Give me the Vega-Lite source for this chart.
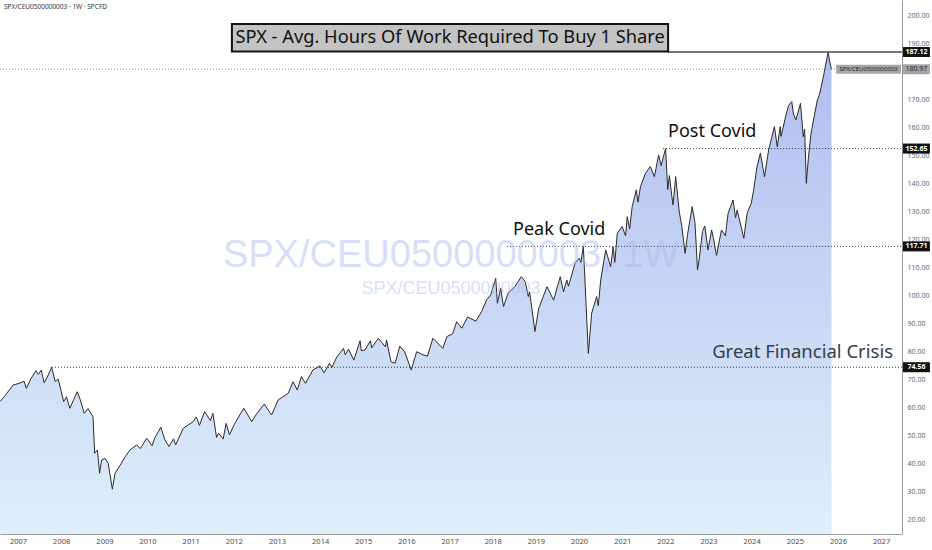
{
  "$schema": "https://vega.github.io/schema/vega-lite/v6.json",
  "width": 902,
  "height": 534,
  "autosize": {"type": "none"},
  "padding": {"left": 0, "top": 0, "right": 30, "bottom": 16},
  "background": "white",
  "datasets": {
    "spx": [
      {"date": "2006-08-01", "hours": 62.3}, {"date": "2006-09-15", "hours": 64.5}, {"date": "2006-10-20", "hours": 66.5},
      {"date": "2006-11-20", "hours": 68.2}, {"date": "2007-01-10", "hours": 68.8}, {"date": "2007-02-20", "hours": 69.6},
      {"date": "2007-03-12", "hours": 67.0}, {"date": "2007-04-20", "hours": 70.5}, {"date": "2007-06-01", "hours": 73.3},
      {"date": "2007-06-20", "hours": 72.0}, {"date": "2007-07-16", "hours": 73.5}, {"date": "2007-08-10", "hours": 69.0},
      {"date": "2007-09-10", "hours": 71.5}, {"date": "2007-10-12", "hours": 74.56}, {"date": "2007-11-12", "hours": 69.4},
      {"date": "2007-12-07", "hours": 70.3}, {"date": "2008-01-22", "hours": 62.3}, {"date": "2008-02-15", "hours": 64.0},
      {"date": "2008-03-14", "hours": 59.9}, {"date": "2008-05-16", "hours": 65.8}, {"date": "2008-06-10", "hours": 63.0},
      {"date": "2008-07-14", "hours": 58.1}, {"date": "2008-08-15", "hours": 59.8}, {"date": "2008-09-26", "hours": 56.9},
      {"date": "2008-10-10", "hours": 43.8}, {"date": "2008-11-03", "hours": 45.0}, {"date": "2008-11-21", "hours": 36.7},
      {"date": "2008-12-08", "hours": 41.4}, {"date": "2009-01-06", "hours": 42.0}, {"date": "2009-02-02", "hours": 40.2},
      {"date": "2009-03-09", "hours": 31.0}, {"date": "2009-04-01", "hours": 36.7}, {"date": "2009-05-15", "hours": 39.6},
      {"date": "2009-06-26", "hours": 42.6}, {"date": "2009-08-05", "hours": 45.0}, {"date": "2009-10-01", "hours": 46.8},
      {"date": "2009-11-01", "hours": 45.5}, {"date": "2009-12-25", "hours": 49.2}, {"date": "2010-02-08", "hours": 46.5},
      {"date": "2010-03-05", "hours": 49.5}, {"date": "2010-04-23", "hours": 53.1}, {"date": "2010-05-28", "hours": 48.6},
      {"date": "2010-07-02", "hours": 46.2}, {"date": "2010-08-09", "hours": 49.0}, {"date": "2010-08-27", "hours": 46.8},
      {"date": "2010-10-29", "hours": 52.7}, {"date": "2011-01-21", "hours": 55.1}, {"date": "2011-02-18", "hours": 56.8},
      {"date": "2011-03-16", "hours": 53.8}, {"date": "2011-04-29", "hours": 58.7}, {"date": "2011-06-17", "hours": 55.5},
      {"date": "2011-07-08", "hours": 58.1}, {"date": "2011-08-08", "hours": 49.5}, {"date": "2011-08-26", "hours": 51.0},
      {"date": "2011-10-03", "hours": 48.9}, {"date": "2011-10-28", "hours": 54.5}, {"date": "2011-11-25", "hours": 50.4},
      {"date": "2012-01-06", "hours": 54.2}, {"date": "2012-02-20", "hours": 57.5}, {"date": "2012-03-26", "hours": 59.9},
      {"date": "2012-05-04", "hours": 57.2}, {"date": "2012-06-01", "hours": 55.1}, {"date": "2012-07-06", "hours": 57.5},
      {"date": "2012-09-14", "hours": 61.4}, {"date": "2012-11-16", "hours": 57.5}, {"date": "2013-01-11", "hours": 62.9},
      {"date": "2013-04-05", "hours": 65.2}, {"date": "2013-05-17", "hours": 69.4}, {"date": "2013-06-21", "hours": 66.4},
      {"date": "2013-07-26", "hours": 71.2}, {"date": "2013-08-30", "hours": 68.8}, {"date": "2013-11-01", "hours": 73.6},
      {"date": "2013-12-30", "hours": 75.0}, {"date": "2014-02-03", "hours": 72.5}, {"date": "2014-03-21", "hours": 76.0},
      {"date": "2014-04-11", "hours": 74.5}, {"date": "2014-05-23", "hours": 78.3}, {"date": "2014-07-18", "hours": 81.3},
      {"date": "2014-08-01", "hours": 79.0}, {"date": "2014-08-29", "hours": 81.0}, {"date": "2014-10-13", "hours": 77.1},
      {"date": "2014-12-05", "hours": 84.0}, {"date": "2014-12-15", "hours": 80.5}, {"date": "2015-01-16", "hours": 80.7},
      {"date": "2015-03-02", "hours": 84.0}, {"date": "2015-03-13", "hours": 81.5}, {"date": "2015-05-08", "hours": 84.9},
      {"date": "2015-07-08", "hours": 81.8}, {"date": "2015-07-17", "hours": 84.3}, {"date": "2015-08-24", "hours": 76.5},
      {"date": "2015-09-28", "hours": 76.0}, {"date": "2015-11-06", "hours": 82.1}, {"date": "2015-12-18", "hours": 80.0},
      {"date": "2016-02-11", "hours": 73.6}, {"date": "2016-03-28", "hours": 80.1}, {"date": "2016-05-20", "hours": 79.0},
      {"date": "2016-06-27", "hours": 78.5}, {"date": "2016-08-12", "hours": 84.9}, {"date": "2016-11-04", "hours": 81.3},
      {"date": "2016-12-09", "hours": 85.5}, {"date": "2017-01-27", "hours": 86.5}, {"date": "2017-03-01", "hours": 90.8},
      {"date": "2017-04-14", "hours": 88.5}, {"date": "2017-06-02", "hours": 92.5}, {"date": "2017-08-11", "hours": 91.0},
      {"date": "2017-09-29", "hours": 94.5}, {"date": "2017-11-10", "hours": 98.6}, {"date": "2017-12-15", "hours": 100.5},
      {"date": "2018-01-26", "hours": 106.3}, {"date": "2018-02-09", "hours": 97.4}, {"date": "2018-03-09", "hours": 102.7},
      {"date": "2018-04-02", "hours": 96.2}, {"date": "2018-05-11", "hours": 101.0}, {"date": "2018-07-06", "hours": 103.3},
      {"date": "2018-08-31", "hours": 106.9}, {"date": "2018-10-03", "hours": 105.1}, {"date": "2018-10-29", "hours": 99.8},
      {"date": "2018-11-09", "hours": 101.5}, {"date": "2018-12-24", "hours": 87.3}, {"date": "2019-01-25", "hours": 95.6},
      {"date": "2019-04-05", "hours": 103.3}, {"date": "2019-05-31", "hours": 98.5}, {"date": "2019-07-26", "hours": 106.9},
      {"date": "2019-08-23", "hours": 101.5}, {"date": "2019-09-20", "hours": 105.7}, {"date": "2019-10-04", "hours": 103.5},
      {"date": "2019-11-29", "hours": 111.7}, {"date": "2020-01-03", "hours": 113.5}, {"date": "2020-01-17", "hours": 112.0},
      {"date": "2020-02-07", "hours": 117.71}, {"date": "2020-03-20", "hours": 79.5}, {"date": "2020-04-17", "hours": 93.8},
      {"date": "2020-05-29", "hours": 99.8}, {"date": "2020-06-12", "hours": 96.5}, {"date": "2020-07-03", "hours": 105.7},
      {"date": "2020-08-14", "hours": 116.4}, {"date": "2020-09-25", "hours": 110.5}, {"date": "2020-10-16", "hours": 117.6},
      {"date": "2020-10-30", "hours": 112.0}, {"date": "2020-11-20", "hours": 122.4}, {"date": "2020-12-31", "hours": 124.8},
      {"date": "2021-01-29", "hours": 121.5}, {"date": "2021-02-12", "hours": 128.3}, {"date": "2021-03-05", "hours": 124.0},
      {"date": "2021-03-26", "hours": 131.9}, {"date": "2021-04-30", "hours": 137.9}, {"date": "2021-05-14", "hours": 133.5},
      {"date": "2021-06-04", "hours": 139.0}, {"date": "2021-07-16", "hours": 143.8}, {"date": "2021-08-27", "hours": 146.2},
      {"date": "2021-09-30", "hours": 142.6}, {"date": "2021-11-05", "hours": 150.4}, {"date": "2021-11-26", "hours": 146.5},
      {"date": "2021-12-17", "hours": 150.0}, {"date": "2022-01-03", "hours": 152.65}, {"date": "2022-01-21", "hours": 138.0},
      {"date": "2022-02-04", "hours": 143.0}, {"date": "2022-02-25", "hours": 135.5}, {"date": "2022-03-07", "hours": 132.5},
      {"date": "2022-03-29", "hours": 142.6}, {"date": "2022-04-29", "hours": 130.0}, {"date": "2022-05-20", "hours": 125.0},
      {"date": "2022-06-17", "hours": 115.2}, {"date": "2022-07-08", "hours": 122.0}, {"date": "2022-08-16", "hours": 131.9},
      {"date": "2022-09-09", "hours": 126.0}, {"date": "2022-09-30", "hours": 109.3}, {"date": "2022-10-14", "hours": 113.0},
      {"date": "2022-11-11", "hours": 123.0}, {"date": "2022-12-01", "hours": 125.0}, {"date": "2022-12-28", "hours": 116.4},
      {"date": "2023-01-27", "hours": 123.6}, {"date": "2023-02-10", "hours": 121.0}, {"date": "2023-03-10", "hours": 114.5},
      {"date": "2023-04-21", "hours": 123.6}, {"date": "2023-05-24", "hours": 121.5}, {"date": "2023-06-16", "hours": 129.5},
      {"date": "2023-07-28", "hours": 134.3}, {"date": "2023-08-18", "hours": 128.0}, {"date": "2023-09-01", "hours": 130.7},
      {"date": "2023-10-27", "hours": 120.6}, {"date": "2023-11-24", "hours": 129.5}, {"date": "2023-12-29", "hours": 133.1},
      {"date": "2024-01-19", "hours": 138.0}, {"date": "2024-02-16", "hours": 146.2}, {"date": "2024-03-15", "hours": 151.0},
      {"date": "2024-04-19", "hours": 142.6}, {"date": "2024-05-24", "hours": 152.1}, {"date": "2024-07-12", "hours": 160.5},
      {"date": "2024-08-05", "hours": 153.3}, {"date": "2024-08-30", "hours": 160.5}, {"date": "2024-09-06", "hours": 157.0},
      {"date": "2024-10-18", "hours": 164.6}, {"date": "2024-11-08", "hours": 168.0}, {"date": "2024-12-06", "hours": 169.4},
      {"date": "2024-12-20", "hours": 165.0}, {"date": "2025-01-10", "hours": 162.9}, {"date": "2025-02-18", "hours": 168.8},
      {"date": "2025-03-13", "hours": 156.9}, {"date": "2025-03-25", "hours": 159.5}, {"date": "2025-04-08", "hours": 140.2},
      {"date": "2025-04-25", "hours": 149.0}, {"date": "2025-05-16", "hours": 157.5}, {"date": "2025-06-13", "hours": 164.0},
      {"date": "2025-07-11", "hours": 170.0}, {"date": "2025-08-01", "hours": 172.5}, {"date": "2025-08-29", "hours": 178.0},
      {"date": "2025-09-19", "hours": 182.5}, {"date": "2025-10-10", "hours": 187.12}, {"date": "2025-10-24", "hours": 183.5},
      {"date": "2025-11-07", "hours": 180.97}
    ],
    "levels": [
      {"from": "2007-10-15", "level": 74.56},
      {"from": "2018-05-01", "level": 117.71},
      {"from": "2021-12-13", "level": 152.65}
    ],
    "tags": [
      {"level": 187.12}, {"level": 152.65}, {"level": 117.71}, {"level": 74.56}
    ]
  },
  "config": {
    "view": {"stroke": null},
    "font": "Noto Sans",
    "axisY": {
      "orient": "right", "tickCount": 20, "format": ".2f", "labelFontSize": 7, "labelColor": "#666666",
      "ticks": false, "grid": false, "domainColor": "#9a9a9a", "labelPadding": 5, "labelOverlap": false, "title": null
    },
    "axisX": {
      "format": "%Y", "labelFontSize": 7.5, "labelColor": "#4a4a4a", "ticks": false, "grid": false,
      "domainColor": "#9a9a9a", "labelPadding": 3, "labelOverlap": false, "labelFlush": false, "title": null
    }
  },
  "layer": [
    {
      "data": {"name": "spx"},
      "mark": {
        "type": "area",
        "color": {
          "gradient": "linear", "x1": 0, "y1": 0, "x2": 0, "y2": 1,
          "stops": [{"offset": 0, "color": "#b1bdf0"}, {"offset": 1, "color": "#deeffa"}]
        }
      },
      "encoding": {
        "x": {
          "field": "date", "type": "temporal", "title": null,
          "scale": {"domain": [{"year": 2006, "month": 8, "date": 1}, {"year": 2027, "month": 6, "date": 27}]},
          "axis": {
            "values": [
              {"year": 2007}, {"year": 2008}, {"year": 2009}, {"year": 2010}, {"year": 2011}, {"year": 2012}, {"year": 2013},
              {"year": 2014}, {"year": 2015}, {"year": 2016}, {"year": 2017}, {"year": 2018}, {"year": 2019}, {"year": 2020},
              {"year": 2021}, {"year": 2022}, {"year": 2023}, {"year": 2024}, {"year": 2025}, {"year": 2026}, {"year": 2027}
            ]
          }
        },
        "y": {
          "field": "hours", "type": "quantitative", "title": null,
          "scale": {"domain": [15, 205.7], "zero": false, "nice": false},
          "axis": {
            "orient": "right", "values": [20, 30, 40, 50, 60, 70, 80, 90, 100, 110, 120, 130, 140, 150, 160, 170, 180, 190, 200]
          }
        },
        "y2": {"datum": 15}
      }
    },
    {
      "data": {"name": "spx"},
      "mark": {"type": "line", "color": "#2b2b2b", "strokeWidth": 1},
      "encoding": {
        "x": {"field": "date", "type": "temporal", "scale": {"domain": [{"year": 2006, "month": 8, "date": 1}, {"year": 2027, "month": 6, "date": 27}]}},
        "y": {"field": "hours", "type": "quantitative", "scale": {"domain": [15, 205.7], "zero": false, "nice": false}}
      }
    },
    {
      "data": {"values": [{}]},
      "mark": {"type": "rule", "color": "#8a8a8a", "strokeDash": [1, 2], "strokeWidth": 1},
      "encoding": {
        "x": {"datum": {"year": 2006, "month": 8, "date": 1}, "type": "temporal"},
        "x2": {"datum": {"year": 2027, "month": 6, "date": 27}},
        "y": {"datum": 180.97, "type": "quantitative"}
      }
    },
    {
      "data": {"name": "levels"},
      "mark": {"type": "rule", "color": "#333333", "strokeDash": [1, 2], "strokeWidth": 1},
      "encoding": {
        "x": {"field": "from", "type": "temporal"},
        "x2": {"datum": {"year": 2027, "month": 6, "date": 27}},
        "y": {"field": "level", "type": "quantitative"}
      }
    },
    {
      "data": {"values": [{}]},
      "mark": {"type": "rule", "color": "#4a4a4a", "strokeWidth": 1.5},
      "encoding": {
        "x": {"datum": {"year": 2022, "month": 1, "date": 24}, "type": "temporal"},
        "x2": {"datum": {"year": 2027, "month": 6, "date": 27}},
        "y": {"datum": 187.12, "type": "quantitative"}
      }
    },
    {
      "data": {"values": [{}]},
      "mark": {"type": "rect", "fill": "#c3c3c3", "stroke": "#111111", "strokeWidth": 2},
      "encoding": {
        "x": {"datum": {"year": 2011, "month": 12, "date": 16}, "type": "temporal"},
        "x2": {"datum": {"year": 2022, "month": 1, "date": 24}},
        "y": {"datum": 197.1, "type": "quantitative"},
        "y2": {"datum": 187.3}
      }
    },
    {
      "data": {"values": [{}]},
      "mark": {"type": "text", "text": "SPX - Avg. Hours Of Work Required To Buy 1 Share", "fontSize": 18.3, "color": "#111111", "align": "center", "baseline": "middle"},
      "encoding": {
        "x": {"datum": {"year": 2017, "month": 1, "date": 5}, "type": "temporal"},
        "y": {"datum": 192.2, "type": "quantitative"}
      }
    },
    {
      "data": {"values": [{}]},
      "mark": {"type": "text", "text": "SPX/CEU0500000003, 1W", "font": "Liberation Sans", "fontSize": 38, "color": "#a8baf0", "opacity": 0.45, "align": "center", "baseline": "alphabetic"},
      "encoding": {
        "x": {"datum": {"year": 2017, "month": 1, "date": 13}, "type": "temporal"},
        "y": {"datum": 110.4, "type": "quantitative"}
      }
    },
    {
      "data": {"values": [{}]},
      "mark": {"type": "text", "text": "SPX/CEU0500000003", "font": "Liberation Sans", "fontSize": 18, "color": "#a8baf0", "opacity": 0.45, "align": "center", "baseline": "alphabetic"},
      "encoding": {
        "x": {"datum": {"year": 2017, "month": 1, "date": 13}, "type": "temporal"},
        "y": {"datum": 100.7, "type": "quantitative"}
      }
    },
    {
      "data": {"values": [{}]},
      "mark": {"type": "text", "text": "Peak Covid", "fontSize": 18, "color": "#111111", "align": "left", "baseline": "middle"},
      "encoding": {
        "x": {"datum": {"year": 2018, "month": 6, "date": 22}, "type": "temporal"},
        "y": {"datum": 123.6, "type": "quantitative"}
      }
    },
    {
      "data": {"values": [{}]},
      "mark": {"type": "text", "text": "Post Covid", "fontSize": 18, "color": "#111111", "align": "left", "baseline": "middle"},
      "encoding": {
        "x": {"datum": {"year": 2022, "month": 1, "date": 24}, "type": "temporal"},
        "y": {"datum": 158.6, "type": "quantitative"}
      }
    },
    {
      "data": {"values": [{}]},
      "mark": {"type": "text", "text": "Great Financial Crisis", "fontSize": 18.5, "color": "#363c48", "align": "left", "baseline": "middle"},
      "encoding": {
        "x": {"datum": {"year": 2023, "month": 2, "date": 1}, "type": "temporal"},
        "y": {"datum": 80.0, "type": "quantitative"}
      }
    },
    {
      "data": {"values": [{}]},
      "mark": {"type": "text", "text": "SPX/CEU0500000003 · 1W · SPCFD", "fontSize": 6.5, "color": "#333333", "align": "left", "baseline": "middle"},
      "encoding": {
        "x": {"datum": {"year": 2006, "month": 9, "date": 4}, "type": "temporal"},
        "y": {"datum": 203.2, "type": "quantitative"}
      }
    },
    {
      "data": {"values": [{}]},
      "mark": {"type": "point", "shape": "M-7.2,-1H7.2V1H-7.2Z", "size": 81, "filled": true, "color": "#a6a6a6", "opacity": 1},
      "encoding": {
        "x": {"datum": {"year": 2026, "month": 9, "date": 17}, "type": "temporal"},
        "y": {"datum": 180.97, "type": "quantitative"}
      }
    },
    {
      "data": {"values": [{}]},
      "mark": {"type": "text", "text": "SPX/CEU0500000003", "fontSize": 6, "color": "#222222", "align": "center", "baseline": "middle"},
      "encoding": {
        "x": {"datum": {"year": 2026, "month": 9, "date": 17}, "type": "temporal"},
        "y": {"datum": 180.97, "type": "quantitative"}
      }
    },
    {
      "data": {"values": [{}]},
      "mark": {"type": "point", "shape": "M-2.7,-1H2.7V1H-2.7Z", "size": 100, "filled": true, "color": "#a6a6a6", "opacity": 1},
      "encoding": {
        "x": {"datum": {"year": 2027, "month": 10, "date": 27}, "type": "temporal"},
        "y": {"datum": 180.97, "type": "quantitative"}
      }
    },
    {
      "data": {"values": [{}]},
      "mark": {"type": "text", "text": "180.97", "fontSize": 7, "color": "#222222", "align": "center", "baseline": "middle"},
      "encoding": {
        "x": {"datum": {"year": 2027, "month": 10, "date": 27}, "type": "temporal"},
        "y": {"datum": 180.97, "type": "quantitative"}
      }
    },
    {
      "data": {"name": "tags"},
      "mark": {"type": "point", "shape": "M-2.7,-1H2.7V1H-2.7Z", "size": 100, "filled": true, "color": "#111111", "opacity": 1},
      "encoding": {
        "x": {"datum": {"year": 2027, "month": 10, "date": 27}, "type": "temporal"},
        "y": {"field": "level", "type": "quantitative"}
      }
    },
    {
      "data": {"name": "tags"},
      "mark": {"type": "text", "fontSize": 7, "fontWeight": "bold", "color": "white", "align": "center", "baseline": "middle"},
      "encoding": {
        "x": {"datum": {"year": 2027, "month": 10, "date": 27}, "type": "temporal"},
        "y": {"field": "level", "type": "quantitative"},
        "text": {"field": "level", "type": "quantitative", "format": ".2f"}
      }
    }
  ]
}
